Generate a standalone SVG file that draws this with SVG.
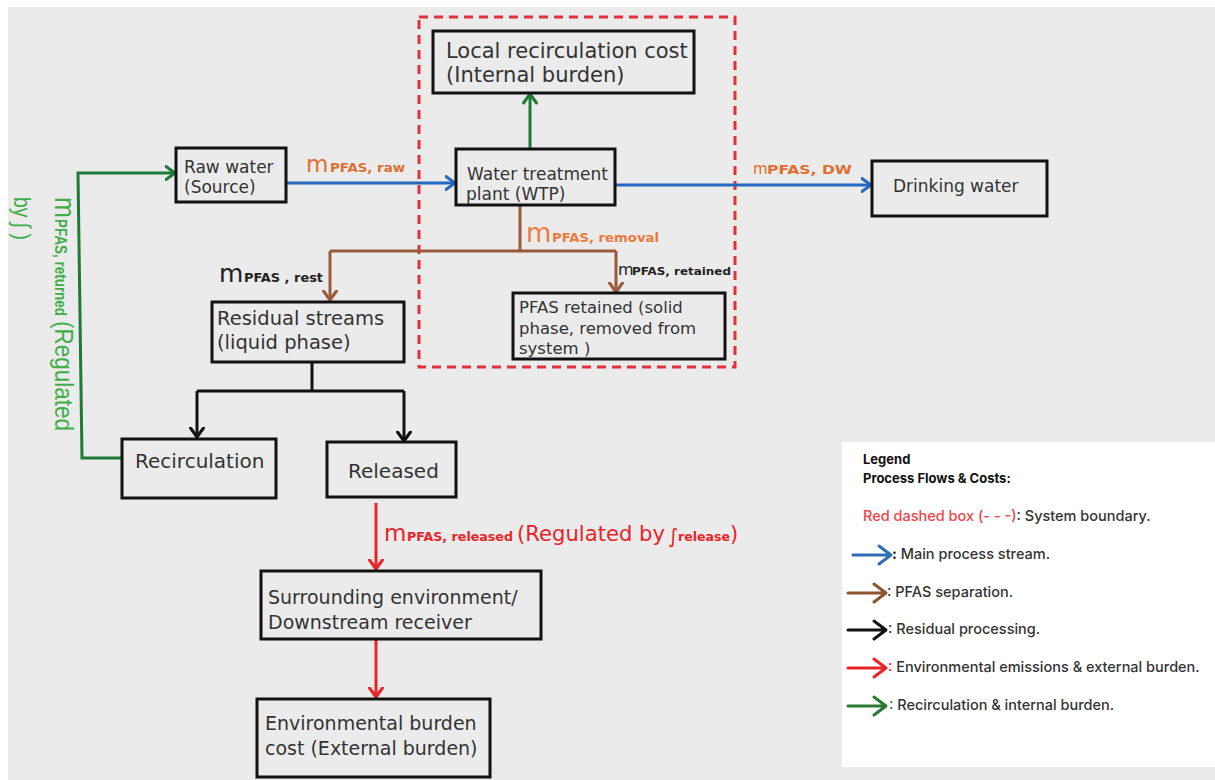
<svg xmlns="http://www.w3.org/2000/svg" width="1215" height="780" viewBox="0 0 1215 780">
<style>
.box{fill:#ebebeb;stroke:#111;stroke-width:3}
.nt{font-family:"DejaVu Sans",sans-serif;fill:#333}
.c{fill:none;stroke-width:3}
.blue{stroke:#2468c0}
.brown{stroke:#9a5a3a}
.black{stroke:#111}
.red{stroke:#e82428}
.green{stroke:#1e7a36}
.lab{font-family:"DejaVu Sans",sans-serif}
.sub{font-family:"DejaVu Sans",sans-serif;font-weight:bold}
.or{fill:#de6f30}
.lg{font-family:Inter,"Liberation Sans",sans-serif;font-size:14.5px;fill:#333;font-weight:500}
.lgb{font-family:Inter,"Liberation Sans",sans-serif;font-size:13px;fill:#111;font-weight:700}
</style>
<defs>
<marker id="aBlue" viewBox="0 0 12 16" refX="10.5" refY="8" markerWidth="12" markerHeight="16" markerUnits="userSpaceOnUse" orient="auto"><path d="M1.5,1.5 L10.5,8 L1.5,14.5" fill="none" stroke="#2468c0" stroke-width="3" stroke-linecap="round" stroke-linejoin="round"/></marker>
<marker id="aBrown" viewBox="0 0 12 16" refX="10.5" refY="8" markerWidth="12" markerHeight="16" markerUnits="userSpaceOnUse" orient="auto"><path d="M1.5,1.5 L10.5,8 L1.5,14.5" fill="none" stroke="#9a5a3a" stroke-width="3" stroke-linecap="round" stroke-linejoin="round"/></marker>
<marker id="aBlack" viewBox="0 0 12 16" refX="10.5" refY="8" markerWidth="12" markerHeight="16" markerUnits="userSpaceOnUse" orient="auto"><path d="M1.5,1.5 L10.5,8 L1.5,14.5" fill="none" stroke="#111" stroke-width="3" stroke-linecap="round" stroke-linejoin="round"/></marker>
<marker id="aRed" viewBox="0 0 12 16" refX="10.5" refY="8" markerWidth="12" markerHeight="16" markerUnits="userSpaceOnUse" orient="auto"><path d="M1.5,1.5 L10.5,8 L1.5,14.5" fill="none" stroke="#e82428" stroke-width="3" stroke-linecap="round" stroke-linejoin="round"/></marker>
<marker id="aGreen" viewBox="0 0 12 16" refX="10.5" refY="8" markerWidth="12" markerHeight="16" markerUnits="userSpaceOnUse" orient="auto"><path d="M1.5,1.5 L10.5,8 L1.5,14.5" fill="none" stroke="#1e7a36" stroke-width="3" stroke-linecap="round" stroke-linejoin="round"/></marker>
</defs>
<rect x="0" y="0" width="1215" height="780" fill="#ffffff"/>
<rect x="8" y="7" width="1207" height="773" fill="#ebebeb"/>

<!-- system boundary -->
<rect id="system-boundary" x="419" y="17" width="316" height="350" fill="none" stroke="#e3303a" stroke-width="3" stroke-dasharray="9,6"/>

<g id="connectors">
<path class="c blue" d="M286,183 L455,183" marker-end="url(#aBlue)"/>
<path class="c blue" d="M615,185 L871,185" marker-end="url(#aBlue)"/>
<path class="c green" d="M530,149 L530,94" marker-end="url(#aGreen)"/>
<path class="c brown" d="M520,205 L520,251 M330,251 L616,251"/>
<path class="c brown" d="M330,251 L330,300" marker-end="url(#aBrown)"/>
<path class="c brown" d="M616,251 L616,292" marker-end="url(#aBrown)"/>
<path class="c black" d="M312,362 L312,391 M197,391 L404,391"/>
<path class="c black" d="M197,391 L197,437" marker-end="url(#aBlack)"/>
<path class="c black" d="M404,391 L404,441" marker-end="url(#aBlack)"/>
<path class="c green" d="M122,458 L82,458 L78,173 L175,173" marker-end="url(#aGreen)"/>
<path class="c red" d="M376,503 L376,569" marker-end="url(#aRed)"/>
<path class="c red" d="M376,639 L376,697" marker-end="url(#aRed)"/>
</g>

<g id="local-recirculation-cost">
<rect class="box" x="433" y="31" width="261" height="62"/>
<text class="nt" font-size="21" x="446" y="58">Local recirculation cost</text>
<text class="nt" font-size="21" x="446" y="82">(Internal burden)</text>
</g>
<g id="raw-water">
<rect class="box" x="176" y="148" width="110" height="54"/>
<text class="nt" font-size="17" x="184" y="173">Raw water</text>
<text class="nt" font-size="17" x="184" y="193">(Source)</text>
</g>
<g id="wtp">
<rect class="box" x="456" y="149" width="159" height="56"/>
<text class="nt" font-size="17" x="467" y="180">Water treatment</text>
<text class="nt" font-size="17" x="466" y="200">plant (WTP)</text>
</g>
<g id="drinking-water">
<rect class="box" x="872" y="161" width="175" height="55"/>
<text class="nt" font-size="17" x="893" y="192">Drinking water</text>
</g>
<g id="residual-streams">
<rect class="box" x="212" y="302" width="192" height="60"/>
<text class="nt" font-size="19.5" x="217" y="325">Residual streams</text>
<text class="nt" font-size="19.5" x="217" y="349">(liquid phase)</text>
</g>
<g id="pfas-retained">
<rect class="box" x="513" y="293" width="212" height="66"/>
<text class="nt" font-size="16.5" x="519" y="313">PFAS retained (solid</text>
<text class="nt" font-size="16.5" x="519" y="334">phase, removed from</text>
<text class="nt" font-size="16.5" x="519" y="354">system )</text>
</g>
<g id="recirculation">
<rect class="box" x="122" y="439" width="154" height="59"/>
<text class="nt" font-size="20" x="135" y="468">Recirculation</text>
</g>
<g id="released">
<rect class="box" x="327" y="442" width="129" height="55"/>
<text class="nt" font-size="20" x="348" y="478">Released</text>
</g>
<g id="surrounding-environment">
<rect class="box" x="261" y="571" width="280" height="68"/>
<text class="nt" font-size="19" x="268" y="604">Surrounding environment/</text>
<text class="nt" font-size="19" x="268" y="629">Downstream receiver</text>
</g>
<g id="environmental-burden-cost">
<rect class="box" x="257" y="699" width="233" height="78"/>
<text class="nt" font-size="19" x="265" y="730">Environmental burden</text>
<text class="nt" font-size="19" x="265" y="755">cost (External burden)</text>
</g>

<g id="flow-labels">
<text class="lab or" font-size="23" x="306" y="172">m</text>
<text class="sub or" font-size="12" x="330" y="172" textLength="75" lengthAdjust="spacingAndGlyphs">PFAS, raw</text>
<text class="lab or" font-size="15" x="753" y="174">m</text>
<text class="sub or" font-size="12.5" x="767" y="174" textLength="85" lengthAdjust="spacingAndGlyphs">PFAS, DW</text>
<text class="lab" fill="#ee7a3c" font-size="26" x="526" y="242">m</text>
<text class="sub" fill="#ee7a3c" font-size="12.5" x="552" y="242" textLength="107" lengthAdjust="spacingAndGlyphs">PFAS, removal</text>
<text class="lab" fill="#222" font-size="25" x="219" y="282">m</text>
<text class="sub" fill="#222" font-size="12.5" x="244" y="282" textLength="79" lengthAdjust="spacingAndGlyphs">PFAS , rest</text>
<text class="lab" fill="#222" font-size="16" x="618" y="275">m</text>
<text class="sub" fill="#222" font-size="11" x="632" y="275" textLength="99" lengthAdjust="spacingAndGlyphs">PFAS, retained</text>
<text class="lab" fill="#e82428" font-size="23" x="384" y="541">m</text>
<text class="sub" fill="#e82428" font-size="12.5" x="407" y="541" textLength="106" lengthAdjust="spacingAndGlyphs">PFAS, released</text>
<text class="lab" fill="#e82428" font-size="21" x="517" y="541" textLength="148" lengthAdjust="spacingAndGlyphs">(Regulated by</text>
<text class="lab" fill="#e82428" font-size="20" x="668" y="543">∫</text>
<text class="sub" fill="#e82428" font-size="12.5" x="678" y="541" textLength="52" lengthAdjust="spacingAndGlyphs">release</text>
<text class="lab" fill="#e82428" font-size="21" x="730" y="541">)</text>
<g transform="translate(55,197) rotate(90) scale(1,1.2)" fill="#3fae49">
<text font-family="Liberation Sans,sans-serif" font-size="25" x="0" y="0">m</text>
<text font-family="Liberation Sans,sans-serif" font-weight="bold" font-size="13" x="22" y="0" textLength="97" lengthAdjust="spacingAndGlyphs">PFAS, returned</text>
<text font-family="Liberation Sans,sans-serif" font-size="22" x="124" y="0" textLength="110" lengthAdjust="spacingAndGlyphs">(Regulated</text>
<text font-family="Liberation Sans,sans-serif" font-size="20" x="0" y="34" textLength="43" lengthAdjust="spacingAndGlyphs">by ∫ )</text>
</g>
</g>

<g id="legend">
<rect x="842" y="442" width="373" height="325" fill="#ffffff"/>
<text class="lgb" x="863" y="464">Legend</text>
<text class="lgb" x="863" y="483">Process Flows &amp; Costs:</text>
<text class="lg" x="863" y="521"><tspan fill="#f04448">Red dashed box (- - -)</tspan>: System boundary.</text>
<path d="M853,555 L890,555 M879,546 L891,555 L879,564" fill="none" stroke="#2f6db5" stroke-width="3" stroke-linecap="round" stroke-linejoin="round"/>
<text class="lg" x="892" y="559"><tspan font-weight="700" fill="#111">:</tspan> Main process stream.</text>
<path d="M848,593 L885,593 M874,584 L886,593 L874,602" fill="none" stroke="#8e5430" stroke-width="3" stroke-linecap="round" stroke-linejoin="round"/>
<text class="lg" x="887" y="597">: PFAS separation.</text>
<path d="M848,630 L885,630 M874,621 L886,630 L874,639" fill="none" stroke="#111" stroke-width="3" stroke-linecap="round" stroke-linejoin="round"/>
<text class="lg" x="888" y="634">: Residual processing.</text>
<path d="M848,668 L885,668 M874,659 L886,668 L874,677" fill="none" stroke="#e82428" stroke-width="3" stroke-linecap="round" stroke-linejoin="round"/>
<text class="lg" x="888" y="672"><tspan fill="#e82428">:</tspan> Environmental emissions &amp; external burden.</text>
<path d="M848,706 L885,706 M874,697 L886,706 L874,715" fill="none" stroke="#2a7a32" stroke-width="3" stroke-linecap="round" stroke-linejoin="round"/>
<text class="lg" x="889" y="710"><tspan fill="#2a7a32">:</tspan>  Recirculation &amp; internal burden.</text>
</g>
</svg>
